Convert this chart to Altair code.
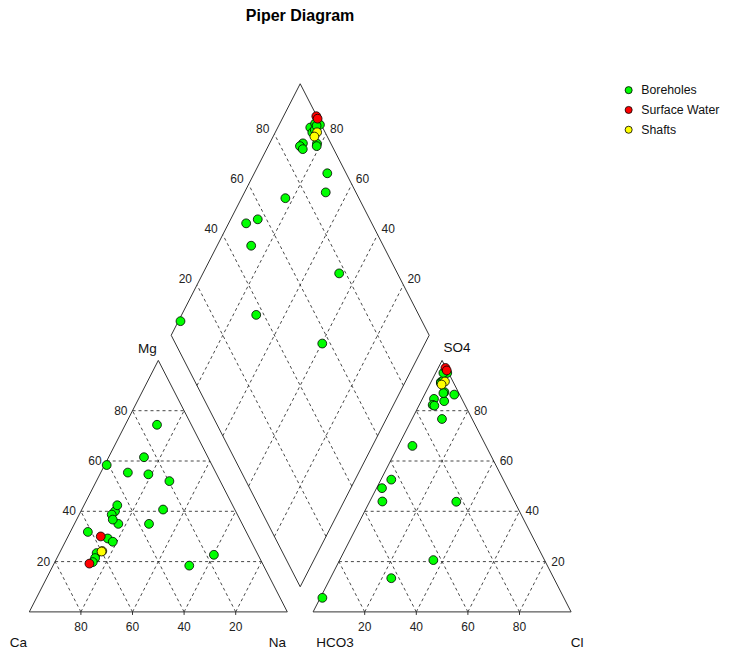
import altair as alt
import pandas as pd

# ---------------- data (percent of meq) ----------------
group = (["Boreholes"] * 21) + ["Surface Water"] * 2 + ["Shafts"] * 2

Ca = [40.8, 28.8, 17.1, 36.1, 19.7, 27.8, 48.0, 34.1, 61.4, 46.8, 48.7, 55.0,
      44.7, 13.3, 49.3, 53.7, 24.8, 26.5, 62.2, 63.8, 65.5, 57.3, 67.1, 59.6, 60.0]
Mg = [58.4, 18.4, 22.7, 35.0, 52.0, 40.7, 35.0, 55.4, 31.8, 40.0, 38.7, 29.2,
      42.4, 74.4, 36.7, 27.9, 61.5, 54.7, 23.4, 21.4, 19.8, 30.0, 19.2, 24.2, 24.0]
Na = [0.8, 52.8, 60.2, 28.9, 28.3, 31.5, 17.0, 10.5, 6.8, 13.2, 12.6, 15.8,
      12.9, 12.3, 14.0, 18.4, 13.7, 18.8, 14.4, 14.8, 14.7, 12.7, 13.7, 16.2, 16.0]

HCO3 = [93.6, 22.6, 43.1, 63.0, 7.3, 11.7, 28.5, 43.4, 48.7, 51.2, 4.8, 0.5,
        10.8, 12.5, 12.0, 5.4, 2.1, 6.0, 5.0, 3.5, 2.0, 0.2, 0.2, 3.1, 5.0]
SO4 = [5.6, 43.8, 20.6, 13.4, 83.8, 76.7, 66.0, 52.6, 49.2, 43.9, 91.4, 95.0,
       84.7, 82.3, 82.0, 87.4, 86.4, 87.0, 91.0, 92.0, 95.0, 97.0, 96.0, 91.6, 90.4]
Cl = [0.8, 33.6, 36.3, 23.6, 8.9, 11.6, 5.5, 4.0, 2.1, 4.9, 3.8, 4.5,
      4.5, 5.2, 6.0, 7.2, 11.5, 7.0, 4.0, 4.5, 3.0, 2.8, 3.8, 5.3, 4.6]

groups = ["Boreholes", "Surface Water", "Shafts"]
group_colors = ["#00FF00", "#FF0000", "#FFFF00"]
ticks = [20, 40, 60, 80]

# ---------------- geometry (units: triangle side = 1 wide, triangle height = 1) ----------------
GAP = 0.1          # gap between the two triangles
RX = 1 + GAP       # left vertex of anion triangle
B = (1 + GAP / 2, GAP)                 # diamond bottom
L = (0.5 + GAP / 2, 1 + GAP)           # diamond left
R = (1.5 + GAP / 2, 1 + GAP)           # diamond right
T = (1 + GAP / 2, 2 + GAP)             # diamond top


def cat_xy(mg, na):
    return na + 0.5 * mg, mg


def an_xy(so4, cl):
    return RX + cl + 0.5 * so4, so4


def dia_xy(c, a):
    return (B[0] + c * (L[0] - B[0]) + a * (R[0] - B[0]),
            B[1] + c * (L[1] - B[1]) + a * (R[1] - B[1]))


rows = []
for i in range(len(group)):
    tc = Ca[i] + Mg[i] + Na[i]
    ta = HCO3[i] + SO4[i] + Cl[i]
    mg, na = Mg[i] / tc, Na[i] / tc
    so4, cl = SO4[i] / ta, Cl[i] / ta
    for kind, (x, y) in (("cation", cat_xy(mg, na)),
                         ("anion", an_xy(so4, cl)),
                         ("diamond", dia_xy((Ca[i] + Mg[i]) / tc, (SO4[i] + Cl[i]) / ta))):
        rows.append({"x": x, "y": y, "group": group[i], "kind": kind,
                     "ord": groups.index(group[i]) * 100 + i})
pts = pd.DataFrame(rows)

# outlines
def poly(pts_):
    segs = []
    for j in range(len(pts_)):
        p, q = pts_[j], pts_[(j + 1) % len(pts_)]
        segs.append({"x": p[0], "y": p[1], "x2": q[0], "y2": q[1]})
    return segs

outline = pd.DataFrame(
    poly([(0, 0), (1, 0), (0.5, 1)]) +
    poly([(RX, 0), (RX + 1, 0), (RX + 0.5, 1)]) +
    poly([B, R, T, L]))

grid = []
for t in ticks:
    k = t / 100
    # cation triangle
    grid.append({"x": 0.5 * k, "y": k, "x2": 1 - 0.5 * k, "y2": k})
    grid.append({"x": k, "y": 0, "x2": k + 0.5 * (1 - k), "y2": 1 - k})
    grid.append({"x": 1 - k, "y": 0, "x2": 0.5 * (1 - k), "y2": 1 - k})
    # anion triangle
    grid.append({"x": RX + 0.5 * k, "y": k, "x2": RX + 1 - 0.5 * k, "y2": k})
    grid.append({"x": RX + k, "y": 0, "x2": RX + k + 0.5 * (1 - k), "y2": 1 - k})
    grid.append({"x": RX + 1 - k, "y": 0, "x2": RX + 0.5 * (1 - k), "y2": 1 - k})
    # diamond
    p0, p1 = dia_xy(k, 0), dia_xy(k, 1)
    grid.append({"x": p0[0], "y": p0[1], "x2": p1[0], "y2": p1[1]})
    p0, p1 = dia_xy(0, k), dia_xy(1, k)
    grid.append({"x": p0[0], "y": p0[1], "x2": p1[0], "y2": p1[1]})
grid = pd.DataFrame(grid)

# tick labels
bottom_lab = pd.DataFrame(
    [{"x": 1 - t / 100, "y": 0, "t": str(t)} for t in ticks] +
    [{"x": RX + t / 100, "y": 0, "t": str(t)} for t in ticks])
tick_marks = bottom_lab.assign(y2=-0.012, x2=bottom_lab["x"])
mg_lab = pd.DataFrame([{"x": 0.5 * t / 100, "y": t / 100, "t": str(t)} for t in ticks])
so4_lab = pd.DataFrame([{"x": RX + 1 - 0.5 * t / 100, "y": t / 100, "t": str(t)} for t in ticks])
dl_lab = pd.DataFrame([{"x": L[0] + (T[0] - L[0]) * t / 100, "y": L[1] + (T[1] - L[1]) * t / 100,
                        "t": str(t)} for t in ticks])
dr_lab = pd.DataFrame([{"x": R[0] + (T[0] - R[0]) * t / 100, "y": R[1] + (T[1] - R[1]) * t / 100,
                        "t": str(t)} for t in ticks])

# ---------------- scales (page pixel mapping) ----------------
PAD_R, PAD_B = 8, 8
W, H = 714 - PAD_R, 641 - PAD_B
PXU, PYU = 258.0, 251.5            # pixels per unit
OX, OY = 21.3, 603.9               # plot-area position of the unit origin
xs = alt.Scale(domain=[-OX / PXU, (W - OX) / PXU], nice=False, zero=False)
ys = alt.Scale(domain=[(OY - H) / PYU, OY / PYU], nice=False, zero=False)
X = lambda f="x": alt.X(f"{f}:Q", scale=xs, axis=None)
Y = lambda f="y": alt.Y(f"{f}:Q", scale=ys, axis=None)

FONT = "Liberation Sans"
LINE = "#333333"

outline_l = alt.Chart(outline).mark_rule(color=LINE, strokeWidth=1).encode(
    x=X(), y=Y(), x2="x2:Q", y2="y2:Q")
grid_l = alt.Chart(grid).mark_rule(color=LINE, strokeWidth=0.9, strokeDash=[3, 3]).encode(
    x=X(), y=Y(), x2="x2:Q", y2="y2:Q")
tick_l = alt.Chart(tick_marks).mark_rule(color=LINE, strokeWidth=1).encode(
    x=X(), y=Y(), x2="x2:Q", y2="y2:Q")

def labels(df, **kw):
    base = dict(font=FONT, fontSize=12, color="#222222", baseline="middle")
    base.update(kw)
    return alt.Chart(df).mark_text(**base).encode(x=X(), y=Y(), text="t:N")

lab_layers = [
    labels(bottom_lab, align="center", dy=15),
    labels(mg_lab, align="right", dx=-5),
    labels(so4_lab, align="left", dx=6),
    labels(dl_lab, align="right", dx=-5, dy=-5.5),
    labels(dr_lab, align="left", dx=4, dy=-5.5),
]

names = [("Ca", (0, 0), -11, 31.5), ("Na", (1, 0), -10, 31.5), ("Mg", (0.5, 1), -11, -11),
         ("HCO3", (RX, 0), 22, 31.5), ("Cl", (RX + 1, 0), 6, 31.5), ("SO4", (RX + 0.5, 1), 15, -12)]
name_layers = [
    alt.Chart(pd.DataFrame([{"x": v[0], "y": v[1], "t": n}])).mark_text(
        font=FONT, fontSize=13.5, color="#111111", align="center", baseline="middle",
        dx=dx, dy=dy).encode(x=X(), y=Y(), text="t:N")
    for n, v, dx, dy in names]

title_l = alt.Chart(pd.DataFrame([{"t": "Piper Diagram"}])).mark_text(
    font=FONT, fontSize=16, fontWeight="bold", color="black", align="center",
    baseline="middle").encode(x=alt.value(292), y=alt.value(8.2), text="t:N")

points_l = alt.Chart(pts).mark_circle(size=78, stroke="black", strokeWidth=0.8, opacity=1).encode(
    x=X(), y=Y(),
    fill=alt.Fill("group:N", scale=alt.Scale(domain=groups, range=group_colors),
                  legend=alt.Legend(title=None, orient="none", legendX=614.5, legendY=76,
                                    symbolType="circle", symbolSize=50,
                                    symbolStrokeColor="black", symbolStrokeWidth=0.8,
                                    symbolOpacity=1, labelFont=FONT, labelFontSize=12.3,
                                    labelColor="#111111", labelOffset=6.5, rowPadding=6.8,
                                    padding=0)),
    order=alt.Order("ord:Q"))

chart = alt.layer(outline_l, grid_l, tick_l, *lab_layers, *name_layers, title_l, points_l).properties(
    width=W, height=H, padding={"left": 0, "top": 0, "right": PAD_R, "bottom": PAD_B},
    autosize=alt.AutoSizeParams(type="none")
).configure_view(strokeWidth=0)

chart.save("out.html", embed_options={"renderer": "svg", "actions": False})
